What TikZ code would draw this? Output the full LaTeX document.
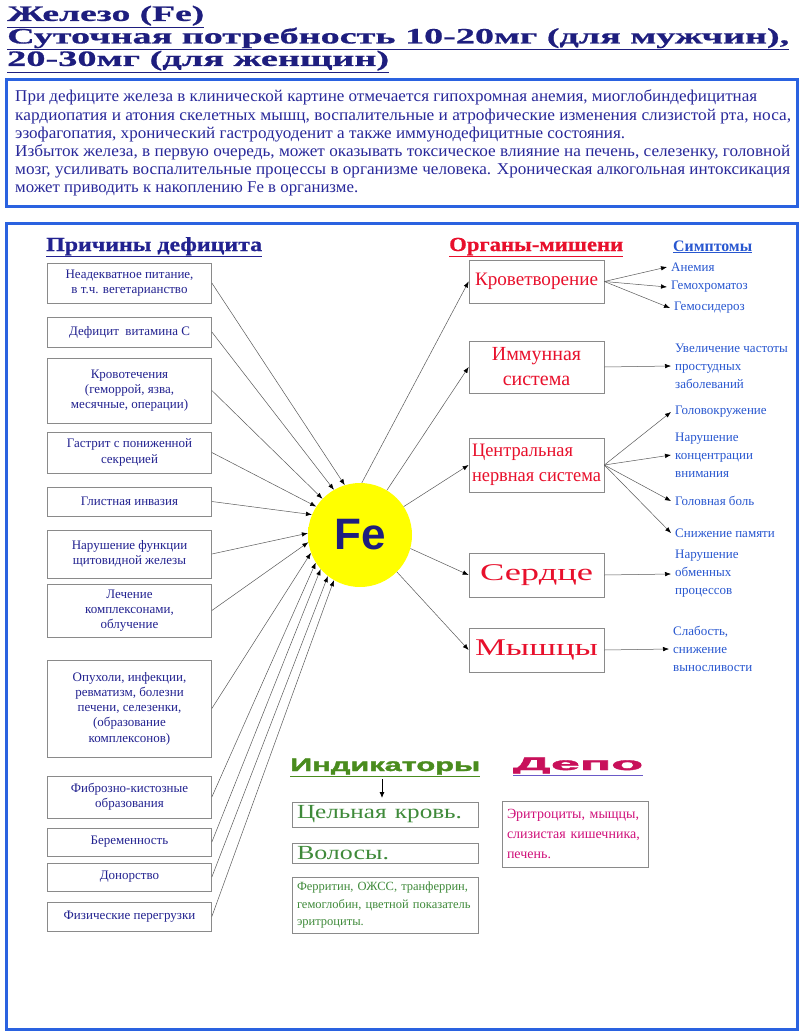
\documentclass[tikz,border=0pt]{standalone}
\usepackage{fontspec}
\usepackage{graphicx}
\setmainfont{Liberation Serif}
\newfontfamily\lsans{Liberation Sans}
\newfontfamily\lsansheavy[FakeBold=1.6]{Liberation Sans Bold}
\newfontfamily\serifheavy[FakeBold=0.6]{Liberation Serif Bold}
\usetikzlibrary{arrows.meta}
\newcommand{\myfs}[2]{\fontsize{#1}{#2}\selectfont}
\newcommand{\wfit}[2]{\resizebox{#1pt}{\height}{#2}}
\definecolor{titleblue}{HTML}{1E1E7E}
\definecolor{frameblue}{HTML}{2A62E0}
\definecolor{textblue}{HTML}{28289A}
\definecolor{causeblue}{HTML}{222290}
\definecolor{orgred}{HTML}{E8102C}
\definecolor{symblue}{HTML}{2857D0}
\definecolor{indgreen}{HTML}{4A8C1E}
\definecolor{greentext}{HTML}{3F8A3A}
\definecolor{depocol}{HTML}{C8105A}
\definecolor{depotext}{HTML}{D0107A}
\definecolor{ulpurple}{HTML}{6A5AC8}
\definecolor{boxgray}{HTML}{8A8A8A}
\pgfdeclareradialshading{fesh}{\pgfpoint{0bp}{0bp}}{color(0bp)=(yellow); color(34bp)=(yellow); color(50bp)=(yellow!40!white)}
\begin{document}
\begin{tikzpicture}[x=1pt,y=-1pt,
  arr/.style={draw=black!65, line width=0.5pt, -{Latex[length=6pt,width=4.5pt,color=black]}},
  cause/.style={draw=boxgray, line width=0.7pt, text=causeblue, align=center, font=\myfs{13}{15.2}, minimum width=164pt, inner sep=1pt},
  organ/.style={draw=boxgray, line width=0.7pt, text=orgred, align=center, minimum width=135pt, inner sep=1pt},
  sym/.style={text=symblue, align=left, anchor=west, font=\myfs{13}{18}, inner xsep=4pt, inner ysep=0pt},
  indbox/.style={draw=boxgray, line width=0.7pt, minimum width=186pt, text width=176pt, align=left, inner xsep=5pt, inner ysep=1pt},
  head/.style={anchor=base west, inner sep=0pt}
]
\useasboundingbox (0,0) rectangle (800,1036);
\fill[white] (0,0) rectangle (800,1036);

% title
\node[anchor=north west, inner sep=0pt, text=titleblue, font=\serifheavy\myfs{22}{22.5}, align=left] (title) at (7,5)
 {\begin{tabular}{@{}l@{}}\wfit{197}{\underline{Железо (Fe)}}\\
 \wfit{782}{\underline{Суточная потребность 10-20мг (для мужчин),}}\\
 \wfit{382}{\underline{20-30мг (для женщин)}}\end{tabular}};

% info box
\node[draw=frameblue, line width=3pt, minimum width=791pt, minimum height=127pt, anchor=north west, inner sep=0pt] (infobox) at (4.5,78) {};
\node[anchor=north west, inner sep=0pt, text=textblue, font=\myfs{16.5}{18.2}, align=left] (info) at (15,89)
 {\begin{tabular}{@{}l@{}}\wfit{742}{При дефиците железа в клинической картине отмечается гипохромная анемия, миоглобиндефицитная}\\
 \wfit{776}{кардиопатия и атония скелетных мышц, воспалительные и атрофические изменения слизистой рта, носа,}\\
 \wfit{610}{эзофагопатия, хронический гастродуоденит а также иммунодефицитные состояния.}\\
 \wfit{775}{Избыток железа, в первую очередь, может оказывать токсическое влияние на печень, селезенку, головной}\\
 \wfit{775}{мозг, усиливать воспалительные процессы в организме человека. Хроническая алкогольная интоксикация}\\
 \wfit{343}{может приводить к накоплению Fe в организме.}\end{tabular}};

% big frame
\node[draw=frameblue, line width=3pt, minimum width=791pt, minimum height=806pt, inner sep=0pt] (frame) at (401.5,626) {};

% headers
\node[head, text=causeblue, font=\serifheavy\myfs{20}{22}] (h1) at (46,251) {\wfit{216}{\underline{Причины дефицита}}};
\node[head, text=orgred, font=\serifheavy\myfs{20}{22}] (h2) at (449,251) {\wfit{174}{\underline{Органы-мишени}}};
\node[head, text=symblue, font=\bfseries\myfs{16}{20}] (h3) at (673,251) {\wfit{79}{\underline{Симптомы}}};

% causes
\node[cause, minimum height=40pt] (c1) at (129.5,283) {Неадекватное питание,\\в т.ч. вегетарианство};
\node[cause, minimum height=30pt] (c2) at (129.5,332) {Дефицит\ \ витамина С};
\node[cause, minimum height=65pt] (c3) at (129.5,390.5) {Кровотечения\\(геморрой, язва,\\месячные, операции)};
\node[cause, minimum height=41pt] (c4) at (129.5,452.5) {Гастрит с пониженной\\секрецией};
\node[cause, minimum height=29pt] (c5) at (129.5,501.5) {Глистная инвазия};
\node[cause, minimum height=48pt] (c6) at (129.5,554) {Нарушение функции\\щитовидной железы};
\node[cause, minimum height=53pt] (c7) at (129.5,610.5) {Лечение\\комплексонами,\\облучение};
\node[cause, minimum height=97pt] (c8) at (129.5,708.5) {Опухоли, инфекции,\\ревматизм, болезни\\печени, селезенки,\\(образование\\комплексонов)};
\node[cause, minimum height=42pt] (c9) at (129.5,797) {Фиброзно-кистозные\\образования};
\node[cause, minimum height=28pt] (c10) at (129.5,842) {Беременность};
\node[cause, minimum height=28pt] (c11) at (129.5,877) {Донорство};
\node[cause, minimum height=29pt] (c12) at (129.5,916.5) {Физические перегрузки};

% Fe
\node[circle, minimum size=104pt, inner sep=0pt, shade, shading=fesh, text=titleblue, font=\lsans\bfseries\myfs{44}{46}] (fe) at (360,535) {Fe\hspace{8pt}};

\foreach \c/\a in {c1/107,c2/120,c3/136,c4/147,c5/157,c6/178,c7/188,c8/200,c9/212,c10/221,c11/232,c12/240}
  \draw[arr] (\c.east) -- (fe.\a);

% organs
\node[organ, minimum height=43pt, font=\myfs{19}{25}] (o1) at (536.5,281.5) {\wfit{123}{Кроветворение}};
\node[organ, minimum height=52pt, font=\myfs{20}{25}] (o2) at (536.5,367) {Иммунная\\система};
\node[organ, minimum height=54pt, font=\myfs{19}{25}, align=left] (o3) at (536.5,465) {\wfit{101}{Центральная}\\\wfit{129}{нервная система}};
\node[organ, minimum height=44pt, font=\myfs{24}{25}] (o4) at (536.5,575) {\wfit{113}{Сердце}};
\node[organ, minimum height=44pt, font=\myfs{24}{25}] (o5) at (536.5,650) {\wfit{123}{Мышцы}};

\draw[arr] (fe.88) -- (o1.west);
\draw[arr] (fe.59) -- (o2.west);
\draw[arr] (fe.33) -- (o3.west);
\draw[arr] (fe.-15) -- (o4.west);
\draw[arr] (fe.-45) -- (o5.west);

% symptoms
\node[sym] (s1) at (667,267) {Анемия};
\node[sym] (s2) at (667,287) {Гемохроматоз};
\node[sym] (s3) at (670,308) {Гемосидероз};
\node[sym] (s4) at (671,366) {Увеличение частоты\\простудных\\заболеваний};
\node[sym] (s5) at (671,412) {Головокружение};
\node[sym] (s6) at (671,455) {Нарушение\\концентрации\\внимания};
\node[sym] (s7) at (671,501) {Головная боль};
\node[sym] (s8) at (671,533) {Снижение памяти};
\node[sym] (s9) at (671,574) {Нарушение\\обменных\\процессов};
\node[sym] (s10) at (669,649) {Слабость,\\снижение\\выносливости};

\foreach \s in {s1,s2,s3} \draw[arr] (o1.east) -- (\s.west);
\draw[arr] (o2.east) -- (s4.west);
\foreach \s in {s5,s6,s7,s8} \draw[arr] (o3.east) -- (\s.west);
\draw[arr] (o4.east) -- (s9.west);
\draw[arr] (o5.east) -- (s10.west);

% indicators
\node[head, text=indgreen, font=\lsansheavy\myfs{18}{20}] (indh) at (290,771) {\wfit{190}{\underline{Индикаторы}}};
\node[head, font=\lsansheavy\myfs{18}{20}] (depoh) at (513,770) {\color{ulpurple}\wfit{130}{\underline{\textcolor{depocol}{Депо}}}};
\coordinate (ia) at (382,779);
\coordinate (ib) at (382,798);
\draw[line width=0.9pt, -{Latex[length=6pt,width=5pt]}] (ia) -- (ib);

\node[indbox, minimum height=25pt, text=greentext, font=\myfs{20}{22}] (blood) at (385,814.5) {\wfit{165}{Цельная кровь.}};
\node[indbox, minimum height=20pt, text=greentext, font=\myfs{20}{20}] (hair) at (385,853) {\wfit{92}{Волосы.}};
\node[indbox, minimum height=56pt, text=greentext, font=\myfs{12.5}{17.5}] (ferr) at (385,905) {Ферритин, ОЖСС, транферрин,\\гемоглобин, цветной показатель\\эритроциты.};
\node[indbox, minimum width=146pt, text width=136pt, minimum height=66pt, text=depotext, font=\myfs{14}{20}] (depob) at (575,834) {Эритроциты, мыщцы,\\слизистая кишечника,\\печень.};
\end{tikzpicture}
\end{document}
